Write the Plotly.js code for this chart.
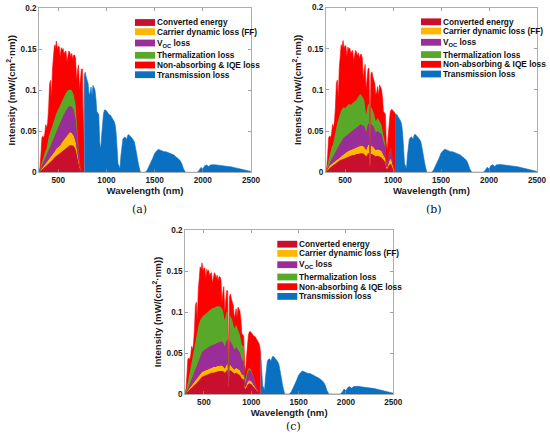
<!DOCTYPE html>
<html>
<head>
<meta charset="utf-8">
<script src="https://cdn.plot.ly/plotly-3.0.1.min.js"></script>
<style>html,body{margin:0;padding:0;background:#fff}#chart{width:550px;height:438px}</style>
</head>
<body>
<div id="chart"></div>
<script>
// ---------------- DATA ----------------
const wavelength = [
  300,310,320,330,340,350,360,370,380,390,
  400,410,420,430,440,450,460,470,480,490,
  500,510,520,530,540,550,560,570,580,590,
  600,610,620,630,640,650,660,670,680,690,
  700,710,720,730,740,750,760,770,780,790,
  800,810,820,830,840,850,860,870,880,890,
  900,910,920,930,940,950,960,970,980,990,
  1000,1010,1020,1030,1040,1050,1060,1070,1080,1090,
  1100,1110,1120,1130,1140,1150,1160,1170,1180,1190,
  1200,1210,1220,1230,1240,1250,1260,1270,1280,1290,
  1300,1310,1320,1330,1340,1350,1360,1370,1380,1390,
  1400,
  1420,1440,1460,1480,1500,1520,1540,1560,1580,1600,
  1620,1640,1660,1680,1700,1720,1740,1760,1780,1800,
  1820,1840,1860,1880,1900,1920,1940,1960,1980,2000,
  2020,2040,2060,2080,2100,2120,2140,2160,2180,2200,
  2220,2240,2260,2280,2300,2320,2340,2360,2380,2400,
  2420,2440,2460,2480,2500
];
const spectrum = [
  0.000,0.006,0.022,0.042,0.044,0.042,0.047,0.058,0.054,0.061,
  0.079,0.108,0.112,0.090,0.126,0.148,0.155,0.152,0.160,0.150,
  0.154,0.153,0.140,0.152,0.149,0.151,0.144,0.147,0.148,0.135,
  0.145,0.148,0.146,0.141,0.145,0.138,0.143,0.143,0.139,0.112,
  0.124,0.131,0.100,0.118,0.126,0.126,0.035,0.119,0.122,0.116,
  0.112,0.108,0.094,0.097,0.104,0.093,0.106,0.102,0.101,0.091,
  0.074,0.072,0.071,0.036,0.028,0.045,0.063,0.072,0.076,0.076,
  0.075,0.073,0.072,0.070,0.070,0.068,0.066,0.064,0.062,0.058,
  0.048,0.030,0.010,0.008,0.004,0.020,0.030,0.040,0.042,0.043,
  0.042,0.040,0.045,0.046,0.045,0.044,0.042,0.041,0.039,0.037,
  0.031,0.026,0.018,0.011,0.004,0.001,0.000,0.000,0.000,0.000,
  0.000,
  0.002,0.008,0.012,0.017,0.023,0.026,0.028,0.027,0.026,0.025,
  0.025,0.024,0.023,0.022,0.021,0.019,0.017,0.015,0.011,0.004,
  0.000,0.000,0.000,0.000,0.000,0.000,0.000,0.002,0.006,0.004,
  0.008,0.009,0.007,0.009,0.0095,0.0093,0.009,0.0088,0.0085,0.0083,
  0.008,0.0077,0.0074,0.007,0.0066,0.006,0.0055,0.005,0.0045,0.004,
  0.0035,0.003,0.0025,0.0018,0.001
];

// band-gap cut-off wavelength per panel (absorbed | transmitted)
const cutoffs = [770, 1030, 1100];

// panel (a) absorbed-energy layers
const layerWlA = [300,320,340,360,380,400,420,440,460,480,500,520,540,560,580,600,620,640,660,680,700,720,740];
const convA  = [0,.002,.004,.006,.008,.011,.013,.015,.018,.020,.021,.023,.026,.028,.030,.032,.033,.033,.032,.028,.018,.006,0];
const ffA    = [0,.001,.002,.003,.004,.005,.006,.007,.007,.009,.010,.010,.011,.012,.013,.014,.016,.015,.013,.010,.006,.002,0];
const vocA   = [0,.002,.004,.006,.008,.011,.013,.016,.019,.021,.024,.027,.029,.031,.032,.033,.032,.032,.031,.027,.016,.005,0];
const thermA = [0,.003,.008,.009,.010,.016,.018,.020,.021,.022,.022,.022,.022,.022,.022,.021,.020,.020,.019,.017,.010,.002,0];

// panel (b)
const layerWlB = [300,320,340,360,380,400,420,440,460,480,500,520,540,560,580,600,620,640,660,680,700,720,740,750,760,770,780,800,820,840,860,880,900,920,930,940,960,980,1000,1020];
const convB  = [0,.003,.005,.007,.009,.011,.012,.014,.015,.016,.017,.018,.019,.020,.021,.021,.022,.022,.023,.023,.022,.019,.023,.023,.006,.022,.022,.021,.019,.020,.019,.018,.015,.012,.005,.004,.009,.010,.004,0];
const ffB    = [0,.001,.003,.003,.003,.003,.004,.004,.005,.006,.006,.007,.007,.007,.007,.008,.008,.009,.009,.009,.009,.008,.010,.010,.003,.010,.010,.009,.008,.008,.008,.008,.006,.005,.002,.002,.005,.007,.003,0];
const vocB   = [0,.002,.004,.006,.008,.011,.013,.015,.017,.019,.020,.020,.021,.022,.023,.023,.024,.025,.026,.025,.025,.021,.026,.026,.007,.026,.026,.025,.021,.022,.021,.020,.016,.013,.005,.004,.008,.011,.005,0];
const thermB = [0,.004,.010,.014,.016,.025,.031,.035,.038,.038,.035,.035,.036,.033,.033,.033,.034,.036,.037,.035,.032,.022,.024,.023,.006,.021,.020,.017,.014,.016,.014,.012,.008,.004,.001,.001,.002,.001,0,0];

// panel (c)
const layerWlC = [300,320,340,360,380,400,420,440,460,480,500,520,540,560,580,600,620,640,660,680,700,720,740,750,760,770,780,800,820,840,860,880,900,920,930,940,960,980,1000,1020,1040,1060,1080,1100];
const convC  = [0,.002,.004,.007,.009,.011,.013,.016,.019,.021,.022,.023,.024,.025,.026,.026,.027,.027,.028,.028,.028,.026,.029,.030,.008,.029,.029,.027,.025,.026,.025,.023,.019,.018,.008,.006,.011,.013,.012,.009,.006,.004,.002,0];
const ffC    = [0,.001,.002,.002,.003,.004,.005,.005,.005,.006,.006,.006,.006,.006,.006,.007,.006,.007,.006,.007,.006,.005,.007,.007,.002,.007,.006,.006,.005,.006,.006,.006,.005,.005,.002,.002,.004,.004,.004,.003,.002,.001,0,0];
const vocC   = [0,.001,.003,.006,.009,.012,.015,.018,.022,.024,.025,.026,.027,.027,.027,.027,.028,.028,.029,.029,.029,.027,.029,.029,.008,.029,.029,.027,.024,.025,.023,.021,.018,.017,.008,.005,.010,.013,.011,.008,.005,.003,.001,0];
const thermC = [0,.004,.011,.018,.025,.033,.039,.043,.044,.043,.043,.043,.044,.044,.045,.045,.045,.045,.044,.042,.039,.032,.035,.034,.010,.032,.031,.030,.026,.027,.024,.022,.018,.018,.006,.005,.004,.002,.002,.001,.001,0,0,0];

const seriesNames = ['Converted energy','Carrier dynamic loss (FF)','V<sub>OC</sub> loss','Thermalization loss','Non-absorbing & IQE loss','Transmission loss'];
const seriesColors = ['#C8102E','#FFB800','#9B2D9B','#58A829','#FF0000','#0A70C2'];
const panelLabels = ['(a)','(b)','(c)'];
const xTicks = [500,1000,1500,2000,2500];
const xTickText = ['500','1000','1500','2000','2500'];
const yTicks = [0,0.05,0.1,0.15,0.2];
const yTickText = ['0','0.05','0.1','0.15','0.2'];
const xTitle = 'Wavelength (nm)';
const yTitle = 'Intensity (mW/(cm<sup>2</sup>·nm))';

// ---------------- LAYOUT / DRAWING ----------------
const W = 550, H = 438;
const px = v => v / W, py = v => 1 - v / H;
const F = 'Liberation Sans, Arial, Helvetica, sans-serif';
const boxes = [
  {l:39,    r:251,   t:8.3, b:172.3},
  {l:325.8, r:537,   t:7.6, b:172.2},
  {l:185,   r:393.3, t:230, b:394}
];
const labelPos = [[139.3,210],[434,210],[293,426.5]];
const legendRows = [14.2,23.4,34.7,47,56.7,66.4];
const layerData = [
  {x: layerWlA, v: [convA, ffA, vocA, thermA]},
  {x: layerWlB, v: [convB, ffB, vocB, thermB]},
  {x: layerWlC, v: [convC, ffC, vocC, thermC]}
];

const tickFont = {family:F, size:8.2, weight:'bold', color:'#1a1a1a'};
const titleFont = {family:F, size:9.6, weight:'bold', color:'#1a1a1a'};

const traces = [];
const layout = {
  width: W, height: H,
  margin: {l:0, r:0, t:0, b:0},
  paper_bgcolor: '#ffffff', plot_bgcolor: '#ffffff',
  showlegend: false,
  shapes: [], annotations: []
};

boxes.forEach((b, i) => {
  const s = i === 0 ? '' : String(i + 1);
  const xa = 'x' + s, ya = 'y' + s;
  const c = cutoffs[i];
  const redX = [], redY = [], blueX = [], blueY = [];
  wavelength.forEach((w, k) => {
    if (w <= c) { redX.push(w); redY.push(spectrum[k]); }
    if (w >= c) { blueX.push(w); blueY.push(spectrum[k]); }
  });
  traces.push({type:'scatter', mode:'lines', x:redX, y:redY, xaxis:xa, yaxis:ya,
    fill:'tozeroy', fillcolor:seriesColors[4], line:{color:seriesColors[4], width:0.6}, hoverinfo:'skip', name:seriesNames[4]});
  traces.push({type:'scatter', mode:'lines', x:blueX, y:blueY, xaxis:xa, yaxis:ya,
    fill:'tozeroy', fillcolor:seriesColors[5], line:{color:seriesColors[5], width:0.6}, hoverinfo:'skip', name:seriesNames[5]});
  layerData[i].v.forEach((vals, j) => {
    traces.push({type:'scatter', mode:'lines', x:layerData[i].x, y:vals, xaxis:xa, yaxis:ya,
      stackgroup:'g' + i, fillcolor:seriesColors[j], line:{width:0, color:seriesColors[j]},
      hoverinfo:'skip', name:seriesNames[j]});
  });

  layout['xaxis' + s] = {
    domain:[px(b.l), px(b.r)], anchor:ya, range:[300,2500],
    tickmode:'array', tickvals:xTicks, ticktext:xTickText,
    ticks:'inside', ticklen:3, tickcolor:'#8a8a8a', tickwidth:0.8,
    showline:true, linecolor:'#9a9a9a', linewidth:0.8, mirror:'ticks',
    showgrid:false, zeroline:false, tickfont:tickFont, fixedrange:true,
    title:{text:xTitle, font:titleFont, standoff:2}
  };
  layout['yaxis' + s] = {
    domain:[py(b.b), py(b.t)], anchor:xa, range:[0,0.2],
    tickmode:'array', tickvals:yTicks, ticktext:yTickText,
    ticks:'inside', ticklen:3, tickcolor:'#8a8a8a', tickwidth:0.8,
    showline:true, linecolor:'#9a9a9a', linewidth:0.8, mirror:'ticks',
    showgrid:false, zeroline:false, tickfont:tickFont, fixedrange:true,
    title:{text:yTitle, font:titleFont, standoff:3}
  };

  seriesNames.forEach((n, j) => {
    const cy = b.t + legendRows[j];
    layout.shapes.push({type:'rect', xref:'paper', yref:'paper',
      x0:px(b.r - 116), x1:px(b.r - 96), y0:py(cy + 3.4), y1:py(cy - 3.4),
      fillcolor:seriesColors[j], line:{width:0}, layer:'above'});
    layout.annotations.push({xref:'paper', yref:'paper', x:px(b.r - 95), y:py(cy),
      xanchor:'left', yanchor:'middle', text:n, showarrow:false, borderpad:0,
      font:{family:F, size:8.3, weight:'bold', color:'#111111'}});
  });

  layout.annotations.push({xref:'paper', yref:'paper', x:px(labelPos[i][0]), y:py(labelPos[i][1]),
    xanchor:'center', yanchor:'middle', text:panelLabels[i], showarrow:false,
    font:{family:'DejaVu Serif, Liberation Serif, serif', size:11, color:'#111111'}});
});

Plotly.newPlot('chart', traces, layout, {staticPlot:true, displayModeBar:false});
</script>
</body>
</html>
